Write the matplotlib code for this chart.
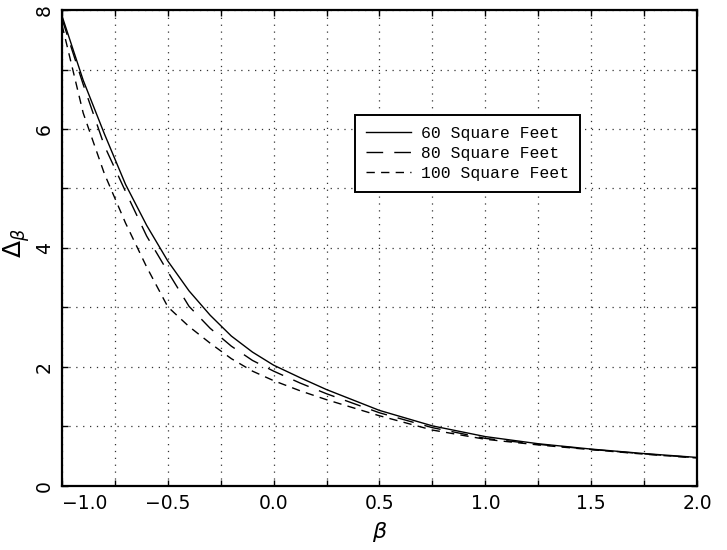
from typing import List

from matplotlib import pyplot as plt
from matplotlib.axes import Axes
from matplotlib.figure import Figure
from matplotlib.ticker import MultipleLocator

# beta values shared by all three curves
beta: List[float] = [
    -1.0, -0.9, -0.8, -0.7, -0.6, -0.5, -0.4, -0.3, -0.2, -0.1,
    0.0, 0.125, 0.25, 0.5, 0.75, 1.0, 1.25, 1.5, 1.75, 2.0,
]

# Delta_beta for each floor area
delta60: List[float] = [
    7.90, 6.82, 5.92, 5.07, 4.38, 3.78, 3.28, 2.87, 2.52, 2.25,
    2.03, 1.82, 1.62, 1.27, 1.01, 0.83, 0.71, 0.62, 0.545, 0.48,
]
delta80: List[float] = [
    7.85, 6.75, 5.72, 4.95, 4.20, 3.60, 3.02, 2.65, 2.35, 2.11,
    1.93, 1.73, 1.55, 1.23, 0.98, 0.80, 0.70, 0.615, 0.54, 0.475,
]
delta100: List[float] = [
    7.75, 6.27, 5.25, 4.42, 3.68, 3.01, 2.68, 2.40, 2.14, 1.93,
    1.77, 1.60, 1.45, 1.18, 0.94, 0.785, 0.69, 0.61, 0.535, 0.47,
]

seriesLabels: List[str] = ["60 Square Feet", "80 Square Feet", "100 Square Feet"]
xTicks: List[float] = [-1.0, -0.5, 0.0, 0.5, 1.0, 1.5, 2.0]
xTickLabels: List[str] = ["\u22121.0", "\u22120.5", "0.0", "0.5", "1.0", "1.5", "2.0"]


def plot(outputFilePath: str) -> None:
    fig: Figure = plt.figure(figsize=(7.27, 5.5), dpi=100)
    ax: Axes = fig.add_axes([0.0853, 0.1164, 0.8734, 0.8654])

    ax.plot(beta, delta60, color="black", linewidth=1.0, label=seriesLabels[0])
    ax.plot(
        beta,
        delta80,
        color="black",
        linewidth=1.0,
        linestyle=(0, (12, 8)),
        label=seriesLabels[1],
    )
    ax.plot(
        beta,
        delta100,
        color="black",
        linewidth=1.0,
        linestyle=(0, (6, 4.5)),
        label=seriesLabels[2],
    )

    ax.set_xlim(-1.0, 2.0)
    ax.set_ylim(0, 8)

    ax.xaxis.set_minor_locator(MultipleLocator(0.25))
    ax.yaxis.set_major_locator(MultipleLocator(2))
    ax.yaxis.set_minor_locator(MultipleLocator(1))

    ax.grid(
        which="both",
        color="0.2",
        linestyle=(0, (1, 4.5)),
        linewidth=0.9,
    )

    ax.tick_params(
        which="both",
        direction="in",
        top=True,
        right=True,
        length=4,
        width=1,
        color="black",
    )
    ax.tick_params(axis="x", which="major", labelsize=13.5, pad=6)
    ax.tick_params(axis="y", which="major", labelsize=13.5, pad=6, labelrotation=90)

    ax.set_xticks(xTicks)
    ax.set_xticklabels(xTickLabels)
    # keep the first label inside the left edge
    ax.get_xticklabels()[0].set_ha("left")
    for lbl in ax.get_yticklabels():
        lbl.set_va("center")

    for spine in ax.spines.values():
        spine.set_linewidth(1.6)
        spine.set_color("black")

    ax.set_xlabel(r"$\beta$", fontsize=16, labelpad=5)
    ax.set_ylabel(r"$\Delta_\beta$", fontsize=18)
    ax.yaxis.set_label_coords(-0.048, 0.51)

    leg = ax.legend(
        loc="upper left",
        bbox_to_anchor=(0.4614, 0.7794),
        prop={"family": "Liberation Mono", "size": 11.8},
        handlelength=2.75,
        handletextpad=0.6,
        borderpad=0.68,
        borderaxespad=0,
        labelspacing=0.3,
        fancybox=False,
        framealpha=1,
        edgecolor="black",
    )
    leg.get_frame().set_linewidth(1.4)

    plt.savefig(outputFilePath, dpi=100)


def main() -> None:
    plot(outputFilePath="out.png")


if __name__ == "__main__":
    main()
